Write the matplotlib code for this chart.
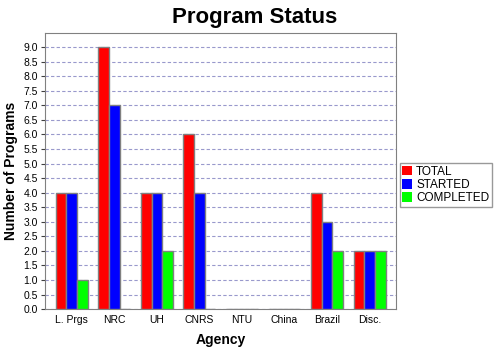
import numpy as np
import matplotlib.pyplot as plt

agencies = ['L. Prgs', 'NRC', 'UH', 'CNRS', 'NTU', 'China', 'Brazil', 'Disc.']
total = [4, 9, 4, 6, 0, 0, 4, 2]
started = [4, 7, 4, 4, 0, 0, 3, 2]
completed = [1, 0, 2, 0, 0, 0, 2, 2]

plt.rcParams['font.family'] = ['Liberation Sans', 'DejaVu Sans']

fig = plt.figure(figsize=(5, 3.5), dpi=100)
ax = fig.add_axes([0.09, 0.117, 0.702, 0.788])

x = np.arange(len(agencies))
w = 0.25
series = [(total, '#ff0000', 'TOTAL'),
          (started, '#0000ff', 'STARTED'),
          (completed, '#00ff00', 'COMPLETED')]
for i, (vals, col, lab) in enumerate(series):
    ax.bar(x + (i - 1) * w, vals, w, color=col, edgecolor='#808080',
           linewidth=1, label=lab, zorder=3)

ax.set_xlim(-0.63, 7.62)
ax.set_ylim(0, 9.48)
ax.set_yticks(np.arange(0, 9.01, 0.5))
ax.set_yticklabels(['%.1f' % v for v in np.arange(0, 9.01, 0.5)], fontsize=7.5)
ax.set_xticks(x)
ax.set_xticklabels(agencies, fontsize=7.5)
ax.tick_params(axis='x', length=0, pad=4)
ax.tick_params(axis='y', length=3, pad=2, color='#404040')
ax.yaxis.grid(True, linestyle=(0, (3, 2)), color='#9999cc', linewidth=0.8, zorder=0)
for s in ax.spines.values():
    s.set_color('#808080')

ax.set_ylabel('Number of Programs', fontsize=10, fontweight='bold', labelpad=4)
ax.set_xlabel('Agency', fontsize=10, fontweight='bold', labelpad=6)
fig.suptitle('Program Status', fontsize=16, fontweight='bold', x=0.51, y=0.98)

leg = ax.legend(loc='center left', bbox_to_anchor=(1.01, 0.45), fontsize=8.5,
                frameon=True, fancybox=False, edgecolor='#808080',
                handlelength=0.85, handleheight=0.85, handletextpad=0.3,
                borderpad=0.25, labelspacing=0.1, borderaxespad=0)
leg.get_frame().set_linewidth(1)
for h in leg.legend_handles:
    h.set_edgecolor('none')

fig.savefig('out.png', dpi=100)
